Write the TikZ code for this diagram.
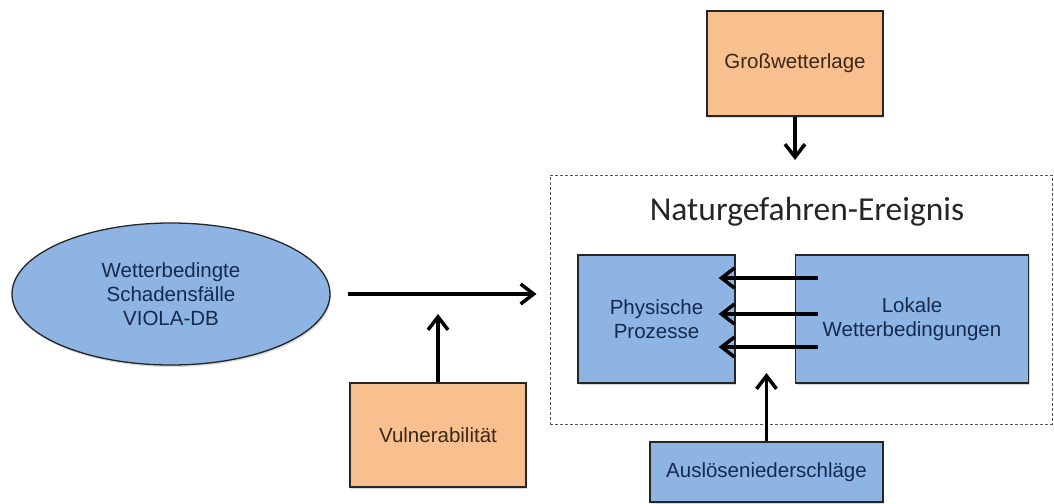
\documentclass[tikz,border=0pt]{standalone}
\usepackage{fontspec}
\setmainfont{Liberation Sans}
\newfontfamily\titlefont{Carlito}
\usetikzlibrary{arrows.meta,shapes.geometric,shadows}
\definecolor{orfill}{HTML}{F9C08F}
\definecolor{blfill}{HTML}{8DB4E2}
\definecolor{bordc}{HTML}{262626}
\definecolor{navytxt}{HTML}{16294F}
\definecolor{browntxt}{HTML}{3A2818}
\definecolor{dashc}{HTML}{555555}
\tikzset{
  boxbase/.style={draw=bordc, line width=1.3pt, inner sep=0pt, align=center,
    font=\fontsize{20.5}{24}\selectfont,
    drop shadow={shadow xshift=1pt, shadow yshift=-2pt, opacity=0.3}},
  orbox/.style={boxbase, rectangle, fill=orfill, text=browntxt},
  blbox/.style={boxbase, rectangle, fill=blfill, text=navytxt},
  blell/.style={boxbase, ellipse, fill=blfill, text=navytxt},
  groupbox/.style={draw=dashc, line width=1pt, dash pattern=on 3pt off 2pt, rectangle, inner sep=0pt},
  arr/.style={line width=3.5pt, -{Straight Barb[length=13pt,width=20pt,line width=3.5pt]}}
}
\begin{document}
\begin{tikzpicture}[x=1pt,y=-1pt]
\useasboundingbox (0,0) rectangle (1054,503);
% group
\node[groupbox, minimum width=502pt, minimum height=249pt] (ne) at (801,299.5) {};
\node[font=\titlefont\fontsize{33.5}{38}\selectfont, text=black!85, inner sep=0pt] (title) at (807,212) {Naturgefahren-Ereignis};
% nodes
\node[orbox, minimum width=176pt, minimum height=105pt] (gross) at (795,63.5) {Großwetterlage};
\node[blbox, minimum width=157pt, minimum height=128pt] (phys) at (656.5,319) {Physische\\Prozesse};
\node[blbox, minimum width=233pt, minimum height=128pt] (lokal) at (912,319) {Lokale\\Wetterbedingungen};
\node[blbox, minimum width=233pt, minimum height=60pt] (ausl) at (766.5,472) {\raisebox{-5pt}{Auslöseniederschläge}};
\node[blell, minimum width=318pt, minimum height=142pt] (ell) at (171,294) {Wetterbedingte\\Schadensfälle\\VIOLA-DB};
\node[orbox, minimum width=176pt, minimum height=104pt] (vuln) at (438,435) {Vulnerabilität};
% free ends
\coordinate (gtip) at (795,160);
\coordinate (atip) at (766.5,373);
% connectors
\draw[arr] (gross.south) -- (gtip);
\draw[arr, shorten <=17pt, shorten >=13pt] (ell.east) -- (ell.east -| ne.west);
\draw[arr, shorten >=20pt] (vuln.north) -- (vuln.north |- ell.east);
\draw[arr] ([xshift=23pt,yshift=41pt]lokal.west) -- ([xshift=-17pt,yshift=41pt]phys.east);
\draw[arr] ([xshift=23pt,yshift=5pt]lokal.west) -- ([xshift=-17pt,yshift=5pt]phys.east);
\draw[arr] ([xshift=23pt,yshift=-28pt]lokal.west) -- ([xshift=-17pt,yshift=-28pt]phys.east);
\draw[arr] (ausl.north) -- (atip);
\end{tikzpicture}
\end{document}
